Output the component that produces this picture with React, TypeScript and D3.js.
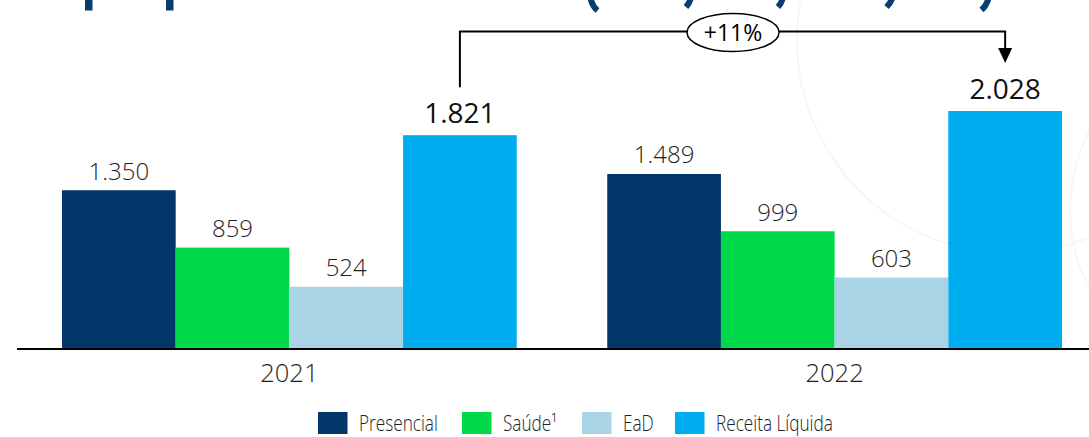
import React from "react";
import * as d3 from "d3";

// Net revenue by segment (R$ MM)
const years = ["2021", "2022"];
const series = ["Presencial", "Saúde", "EaD", "Receita Líquida"];
const legendLabels = ["Presencial", "Saúde¹", "EaD", "Receita Líquida"];
const presencial = [1350, 1489];
const saude = [859, 999];
const ead = [524, 603];
const receitaLiquida = [1821, 2028];
const growthLabel = "+11%";

const colors = ["#03376a", "#00da4a", "#aad3e6", "#00aeef"];

const W = 1089;
const H = 437;
const baseline = 348;
const legendX = [318, 462, 582, 675];

const fmt = (v: number) => d3.format(",")(v).replace(/,/g, ".");

export default function App() {
  const values = [presencial, saude, ead, receitaLiquida];

  const x0 = d3
    .scaleBand<string>()
    .domain(years)
    .range([16.75, 1107.25])
    .paddingInner(0.166)
    .paddingOuter(0.083);

  const x1 = d3
    .scaleBand<string>()
    .domain(series)
    .range([0, x0.bandwidth()])
    .padding(0);

  const y = d3
    .scaleLinear()
    .domain([0, d3.max(receitaLiquida) as number])
    .range([baseline, 111]);

  const font = "'Open Sans', 'Noto Sans', sans-serif";
  const totalIdx = series.length - 1;
  const cx = (yi: number, si: number) =>
    (x0(years[yi]) as number) + (x1(series[si]) as number) + x1.bandwidth() / 2;

  // growth bracket between the two totals
  const bx1 = cx(0, totalIdx);
  const bx2 = cx(1, totalIdx);
  const bracketY = 31.5;
  const bracketMid = (bx1 + bx2) / 2 + 0.5;
  const bracketStart = y(receitaLiquida[0]) - 48;
  const arrowTip = y(receitaLiquida[1]) - 48;

  return (
    <svg
      width={W}
      height={H}
      style={{ position: "absolute", left: 0, top: 0, background: "#fff" }}
      fontFamily={font}
      fontWeight={300}
    >
      {/* faint background ornament */}
      <circle cx={1010} cy={40} r={213} fill="none" stroke="#f5f6f7" strokeWidth={2} />
      <circle cx={1240} cy={210} r={170} fill="none" stroke="#f5f6f7" strokeWidth={2} />

      {/* heading fragments along the top edge */}
      <g fill="#0b3c6f">
        <rect x={85} y={0} width={7.5} height={10.5} />
        <rect x={166} y={0} width={7.5} height={10.5} />
      </g>
      <g fill="none" stroke="#0b3c6f" strokeWidth={6}>
        <path d="M590.5,-2 Q592,6 597.5,10.5" />
        <path d="M690.5,-1 Q689.5,3 686,7" />
        <path d="M782.5,-1 Q781.5,3 778,7" />
        <path d="M892,-1 Q890.5,3 886.5,7" />
        <path d="M988.5,-2 Q987,5 981.5,10" />
      </g>

      {/* bars */}
      {years.map((yr, yi) => (
        <g key={yr} transform={`translate(${x0(yr)},0)`}>
          {series.map((s, si) => {
            const v = values[si][yi];
            return (
              <rect
                key={s}
                x={x1(s)}
                y={y(v)}
                width={x1.bandwidth()}
                height={baseline - y(v)}
                fill={colors[si]}
              />
            );
          })}
        </g>
      ))}

      {/* value labels */}
      {years.map((yr, yi) =>
        series.map((s, si) => {
          const v = values[si][yi];
          const isTotal = si === totalIdx;
          return (
            <text
              key={`${yr}-${s}`}
              x={cx(yi, si)}
              y={y(v) - (isTotal ? 12.5 : 10.5)}
              textAnchor="middle"
              fontSize={isTotal ? 28 : 24}
              fontWeight={isTotal ? 400 : 300}
              fill={isTotal ? "#111" : "#1e1e1e"}
            >
              {fmt(v)}
            </text>
          );
        })
      )}

      {/* axis baseline */}
      <line x1={17} x2={W} y1={baseline + 1} y2={baseline + 1} stroke="#000" strokeWidth={2} />

      {/* category labels */}
      {years.map((yr) => (
        <text
          key={yr}
          x={(x0(yr) as number) + x0.bandwidth() / 2}
          y={382}
          textAnchor="middle"
          fontSize={25.5}
          fill="#1e1e1e"
        >
          {yr}
        </text>
      ))}

      {/* growth bracket */}
      <path
        d={`M${bx1},${bracketStart} V${bracketY} H${bx2} V${arrowTip - 14}`}
        fill="none"
        stroke="#000"
        strokeWidth={2}
      />
      <path
        d={`M${bx2 - 7},${arrowTip - 15} L${bx2 + 7},${arrowTip - 15} L${bx2},${arrowTip} Z`}
        fill="#000"
      />
      <ellipse cx={bracketMid} cy={32.5} rx={46} ry={19} fill="#fff" stroke="#000" strokeWidth={1.5} />
      <text x={bracketMid} y={41} textAnchor="middle" fontSize={23} fontWeight={400} fill="#000">
        {growthLabel}
      </text>

      {/* legend */}
      {legendLabels.map((lbl, i) => (
        <g key={lbl} transform={`translate(${legendX[i]},0)`}>
          <rect x={0} y={412} width={29.5} height={22} fill={colors[i]} />
          <text
            transform={`translate(41,431) scale(0.8,1)`}
            fontSize={21.5}
            fill="#222"
          >
            {lbl}
          </text>
        </g>
      ))}
    </svg>
  );
}
